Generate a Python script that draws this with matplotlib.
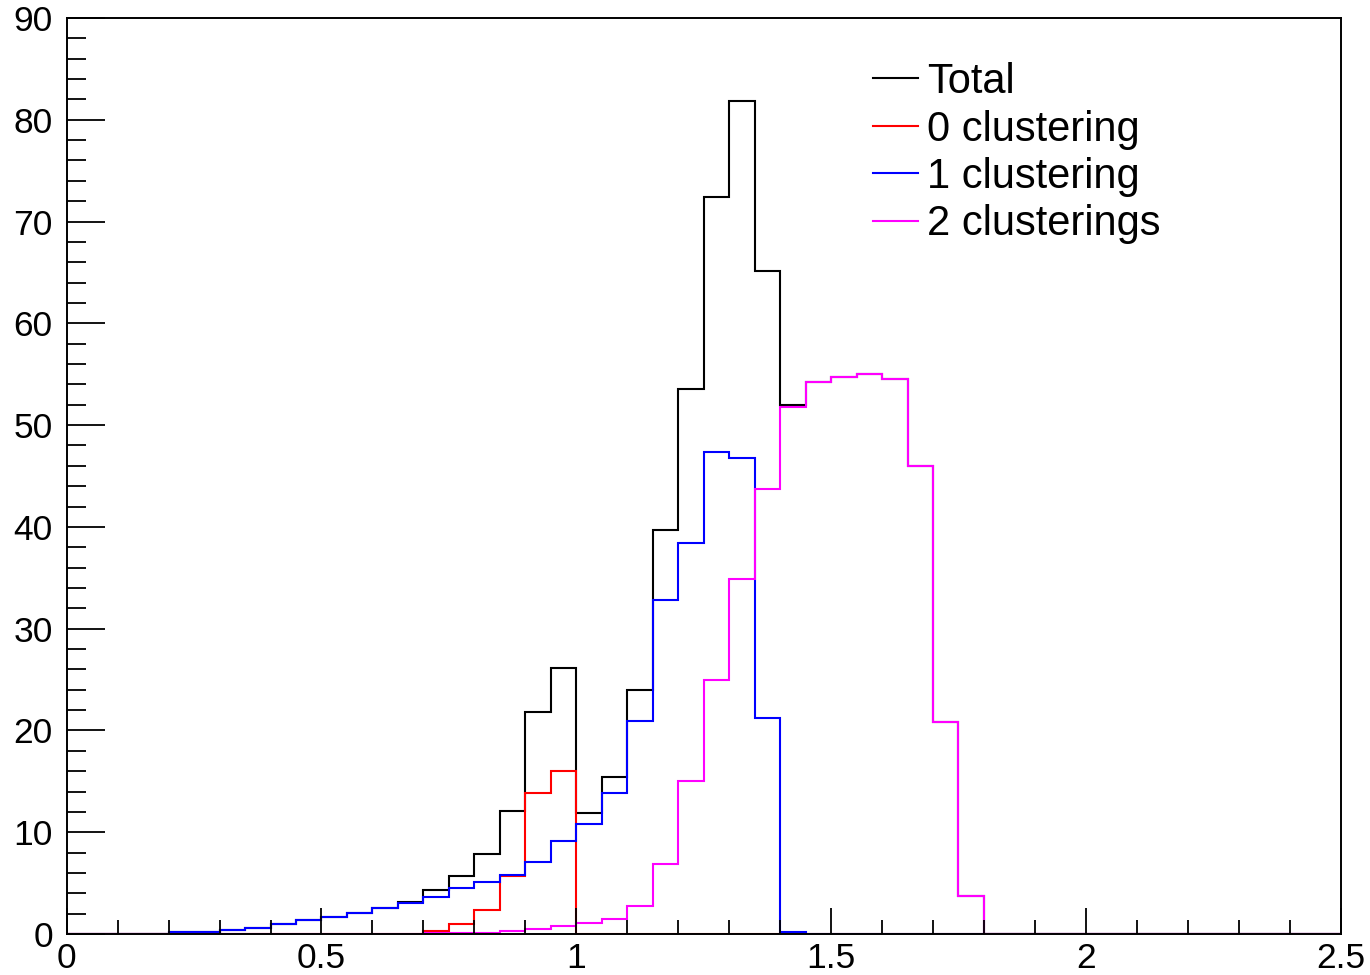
import numpy as np
import matplotlib
matplotlib.use("Agg")
import matplotlib.pyplot as plt
from matplotlib.lines import Line2D

plt.rcParams['font.family'] = ['Liberation Sans', 'DejaVu Sans']

# 50 bins of width 0.05 from 0 to 2.5
bin_edges = np.round(np.arange(0, 2.5001, 0.05), 2)

total = [0, 0, 0, 0, 0.17, 0.17, 0.4, 0.56, 0.95, 1.35,
         1.7, 2.1, 2.55, 3.1, 4.3, 5.7, 7.85, 12.1, 21.8, 26.1,
         11.85, 15.45, 24.0, 39.7, 53.5, 72.4, 81.85, 65.1, 51.95, 54.25,
         54.7, 55.05, 54.5, 46.0, 20.8, 3.7, 0, 0, 0, 0,
         0, 0, 0, 0, 0, 0, 0, 0, 0, 0]
clust0 = [0, 0, 0, 0, 0, 0, 0, 0, 0, 0,
          0, 0, 0, 0, 0.3, 0.95, 2.35, 5.7, 13.9, 16.0,
          0, 0, 0, 0, 0, 0, 0, 0, 0, 0,
          0, 0, 0, 0, 0, 0, 0, 0, 0, 0,
          0, 0, 0, 0, 0, 0, 0, 0, 0, 0]
clust1 = [0, 0, 0, 0, 0.17, 0.17, 0.4, 0.56, 0.95, 1.35,
          1.67, 2.03, 2.55, 3.0, 3.66, 4.5, 5.08, 5.8, 7.05, 9.1,
          10.8, 13.9, 20.95, 32.8, 38.4, 47.4, 46.8, 21.2, 0.2, 0,
          0, 0, 0, 0, 0, 0, 0, 0, 0, 0,
          0, 0, 0, 0, 0, 0, 0, 0, 0, 0]
clust2 = [0, 0, 0, 0, 0, 0, 0, 0, 0, 0,
          0, 0, 0, 0, 0.05, 0.05, 0.1, 0.3, 0.45, 0.75,
          1.05, 1.5, 2.8, 6.9, 15.0, 25.0, 34.9, 43.7, 51.8, 54.25,
          54.7, 55.05, 54.5, 46.0, 20.8, 3.7, 0, 0, 0, 0,
          0, 0, 0, 0, 0, 0, 0, 0, 0, 0]

series = [
    ("Total", total, "black"),
    ("0 clustering", clust0, "#ff0000"),
    ("1 clustering", clust1, "#0000ff"),
    ("2 clusterings", clust2, "#ff00ff"),
]

x_ticks = [0, 0.5, 1, 1.5, 2, 2.5]
x_tick_labels = ["0", "0.5", "1", "1.5", "2", "2.5"]
y_ticks = [0, 10, 20, 30, 40, 50, 60, 70, 80, 90]

W, H = 1370, 975
fig = plt.figure(figsize=(W / 100, H / 100), dpi=100)
ax = fig.add_axes([66.7 / W, (H - 934) / H, (1340.7 - 66.7) / W, (934 - 18) / H])

for label, vals, col in series:
    ax.stairs(vals, bin_edges, color=col, linewidth=1.5, baseline=0, label=label)

ax.set_xlim(0, 2.5)
ax.set_ylim(0, 90)
ax.set_xticks(x_ticks)
ax.set_xticklabels(x_tick_labels)
ax.set_yticks(y_ticks)
ax.set_xticks(np.arange(0, 2.5001, 0.1), minor=True)
ax.set_yticks(np.arange(0, 90.001, 2), minor=True)

ax.tick_params(axis='x', which='major', direction='in', length=19, width=1.3,
               labelsize=25.5, pad=6, top=False)
ax.tick_params(axis='x', which='minor', direction='in', length=10, width=1.3, top=False)
ax.tick_params(axis='y', which='major', direction='in', length=27, width=1.3,
               labelsize=25.5, pad=10, right=False)
ax.tick_params(axis='y', which='minor', direction='in', length=14, width=1.3, right=False)
for s in ax.spines.values():
    s.set_linewidth(1.4)

leg_handles = [Line2D([], [], color=c, linewidth=1.5) for _, _, c in series]
leg = fig.legend(leg_handles, [s[0] for s in series],
                 loc='upper left', bbox_to_anchor=(873 / W, 1 - 62 / H),
                 frameon=False, fontsize=30, handlelength=1.08,
                 handletextpad=0.22, labelspacing=0.18, borderpad=0,
                 borderaxespad=0)

fig.savefig("out.png", dpi=100)
